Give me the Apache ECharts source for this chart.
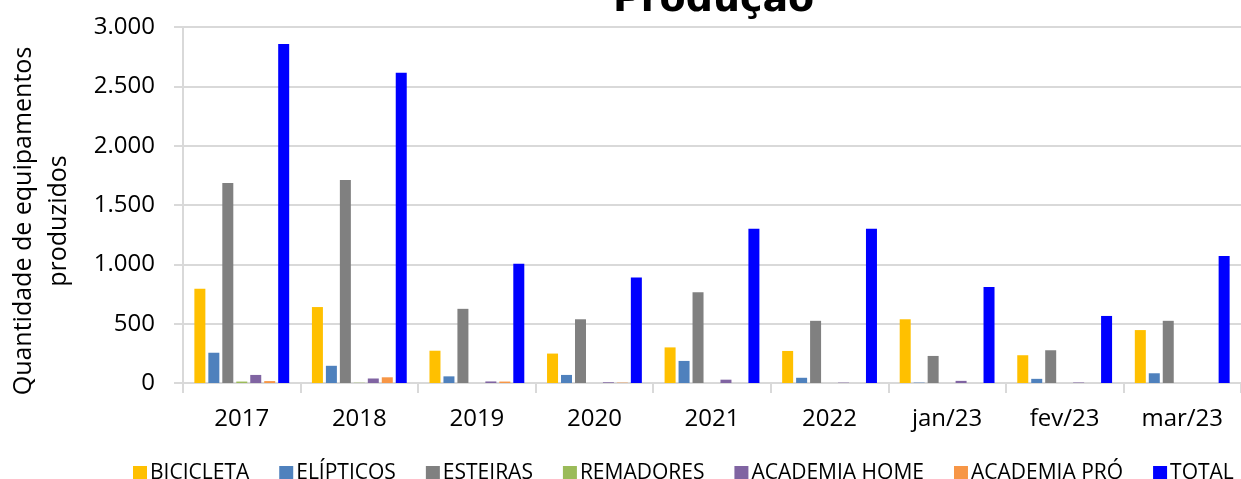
<!DOCTYPE html>
<html>
<head>
<meta charset="utf-8">
<script src="https://cdn.jsdelivr.net/npm/echarts@6/dist/echarts.min.js"></script>
<style>
  html, body { margin: 0; padding: 0; background: #fff; }
  #chart { width: 1241px; height: 479px; }
</style>
</head>
<body>
<div id="chart"></div>
<script>
const categories = ['2017', '2018', '2019', '2020', '2021', '2022', 'jan/23', 'fev/23', 'mar/23'];

const bicicleta = [795, 640, 272, 248, 300, 270, 537, 234, 446];
const elipticos = [255, 145, 56, 68, 186, 44, 3, 35, 82];
const esteiras = [1685, 1710, 625, 537, 764, 524, 228, 276, 524];
const remadores = [12, 2, 0, 0, 0, 0, 0, 0, 0];
const academiaHome = [68, 38, 13, 6, 28, 3, 18, 4, 0];
const academiaPro = [16, 48, 12, 3, 0, 0, 0, 0, 0];
const total = [2856, 2615, 1005, 888, 1300, 1300, 810, 565, 1070];

const seriesNames = ['BICICLETA', 'ELÍPTICOS', 'ESTEIRAS', 'REMADORES', 'ACADEMIA HOME', 'ACADEMIA PRÓ', 'TOTAL'];
const seriesData = [bicicleta, elipticos, esteiras, remadores, academiaHome, academiaPro, total];
const colors = ['#FFC000', '#4F81BD', '#808080', '#9BBB59', '#8064A2', '#F79646', '#0000FF'];

const font = '"Open Sans", "Liberation Sans", sans-serif';

// 3000 -> "3.000"
const fmt = v => String(v).replace(/\B(?=(\d{3})+(?!\d))/g, '.');

const chart = echarts.init(document.getElementById('chart'));

const option = {
    animation: false,
    color: colors,
    title: {
        text: 'Produção',
        left: 608,
        top: -23,
        textStyle: {
            fontFamily: '"DejaVu Sans", sans-serif',
            fontWeight: 'bold',
            fontSize: 38,
            color: '#000',
        },
    },
    legend: {
        top: 463,
        left: 133,
        padding: 0,
        itemWidth: 14,
        itemHeight: 15,
        itemGap: 30,
        icon: 'rect',
        textStyle: { fontFamily: font, fontSize: 21, color: '#000', padding: [0, 0, 0, -2] },
        data: seriesNames,
    },
    grid: {
        left: 183,
        right: 0,
        top: 27,
        bottom: 96,
        containLabel: false,
        outerBoundsMode: 'none',
    },
    xAxis: {
        type: 'category',
        data: categories,
        axisLine: { lineStyle: { color: '#d9d9d9', width: 2 } },
        axisTick: { show: true, length: 10, lineStyle: { color: '#d9d9d9', width: 2 } },
        axisLabel: { fontFamily: font, fontSize: 24, color: '#000', margin: 24 },
    },
    yAxis: {
        type: 'value',
        min: 0,
        max: 3000,
        interval: 500,
        name: 'Quantidade de equipamentos\nproduzidos',
        nameLocation: 'middle',
        nameGap: 107,
        nameTextStyle: {
            fontFamily: font,
            fontSize: 25,
            color: '#000',
            lineHeight: 35,
            padding: [0, 32, 0, 0],
        },
        axisLine: { show: true, lineStyle: { color: '#d9d9d9', width: 2 } },
        axisTick: { show: true, length: 9, lineStyle: { color: '#d9d9d9', width: 2 } },
        axisLabel: {
            fontFamily: font,
            fontSize: 24,
            color: '#000',
            margin: 28,
            formatter: v => fmt(v),
        },
        splitLine: { lineStyle: { color: '#d9d9d9', width: 2 } },
    },
    series: seriesNames.map((name, i) => ({
        name: name,
        type: 'bar',
        data: seriesData[i],
        barWidth: 11,
        barGap: '27%',
        itemStyle: { color: colors[i] },
    })),
};

chart.setOption(option);
</script>
</body>
</html>
